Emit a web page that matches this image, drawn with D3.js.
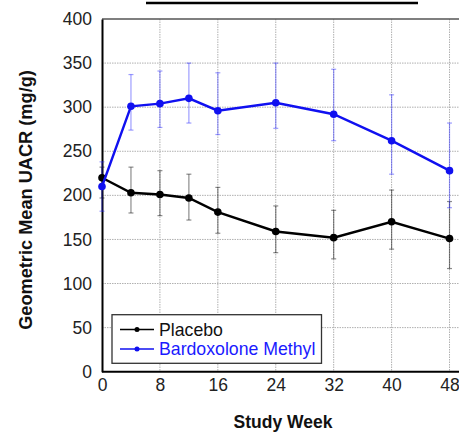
<!DOCTYPE html>
<html>
<head>
<meta charset="utf-8">
<script src="https://cdn.jsdelivr.net/npm/d3@7"></script>
<style>
  body { margin: 0; background: #fff; }
  svg { display: block; font-family: "Liberation Sans", Arial, sans-serif; }
</style>
</head>
<body>
<div id="chart"></div>
<script>
// study weeks
const weeks = [0, 4, 8, 12, 16, 24, 32, 40, 48];

// Placebo geometric mean + error bars
const placebo = [220, 203, 201, 197, 181, 159, 152, 170, 151];
const placeboHi = [232, 232, 228, 224, 209, 188, 183, 206, 193];
const placeboLo = [197, 180, 177, 172, 157, 135, 128, 139, 117];

// Bardoxolone Methyl
const bard = [210, 301, 304, 310, 296, 305, 292, 262, 228];
const bardHi = [238, 337, 341, 350, 339, 350, 343, 314, 282];
const bardLo = [182, 274, 277, 282, 269, 276, 262, 224, 186];

const xTicks = [0, 8, 16, 24, 32, 40, 48];
const yTicks = [0, 50, 100, 150, 200, 250, 300, 350, 400];

const width = 459, height = 432;
const svg = d3.select("#chart").append("svg")
    .attr("width", width)
    .attr("height", height);

const x = d3.scaleLinear().domain([0, 50]).range([102, 464]);
const y = d3.scaleLinear().domain([0, 400]).range([371.7, 19]);

// grid
svg.append("g").selectAll("line")
    .data(xTicks.slice(1))
    .enter().append("line")
    .attr("x1", d => x(d)).attr("x2", d => x(d))
    .attr("y1", y(400)).attr("y2", y(0))
    .attr("stroke", "#b0b0b0").attr("stroke-width", 1)
    .attr("stroke-dasharray", "1.5,1");
svg.append("g").selectAll("line")
    .data(yTicks.slice(1, -1))
    .enter().append("line")
    .attr("x1", x(0)).attr("x2", width)
    .attr("y1", d => y(d)).attr("y2", d => y(d))
    .attr("stroke", "#b0b0b0").attr("stroke-width", 1)
    .attr("stroke-dasharray", "1.5,1");

// top frame
svg.append("line")
    .attr("x1", x(0)).attr("x2", width)
    .attr("y1", y(400)).attr("y2", y(400))
    .attr("stroke", "#555").attr("stroke-width", 1.5);

// axes
const yAxis = svg.append("g")
    .attr("transform", `translate(${x(0)},0)`)
    .call(d3.axisLeft(y).tickValues(yTicks).tickSize(0).tickPadding(10));
const xAxis = svg.append("g")
    .attr("transform", `translate(0,${y(0)})`)
    .call(d3.axisBottom(x).tickValues(xTicks).tickSize(0).tickPadding(7));
[yAxis, xAxis].forEach(a => {
    a.select(".domain").attr("stroke", "#000").attr("stroke-width", 2);
    a.selectAll("text").attr("font-size", 17.5).attr("fill", "#222")
        .attr("font-family", "Liberation Sans, Arial, sans-serif");
});
xAxis.select(".domain").attr("d", `M${x(0)},0H${width}`);

// error bars + lines
const series = [
    { name: "Placebo", vals: placebo, hi: placeboHi, lo: placeboLo, color: "#000", err: "rgba(0,0,0,0.45)" },
    { name: "Bardoxolone Methyl", vals: bard, hi: bardHi, lo: bardLo, color: "#1010f0", err: "rgba(40,40,255,0.45)" }
];

const line = d3.line().x(d => x(d[0])).y(d => y(d[1]));

series.forEach(s => {
    const g = svg.append("g");
    const eb = g.selectAll("g.eb").data(weeks.map((w, i) => [w, s.lo[i], s.hi[i]]))
        .enter().append("g");
    eb.append("line")
        .attr("x1", d => x(d[0])).attr("x2", d => x(d[0]))
        .attr("y1", d => y(d[1])).attr("y2", d => y(d[2]))
        .attr("stroke", s.err).attr("stroke-width", 1.2);
    [1, 2].forEach(k => {
        eb.append("line")
            .attr("x1", d => x(d[0]) - 2.5).attr("x2", d => x(d[0]) + 2.5)
            .attr("y1", d => y(d[k])).attr("y2", d => y(d[k]))
            .attr("stroke", s.err).attr("stroke-width", 1.2);
    });
});

series.forEach(s => {
    const pts = weeks.map((w, i) => [w, s.vals[i]]);
    svg.append("path")
        .datum(pts)
        .attr("d", line)
        .attr("fill", "none")
        .attr("stroke", s.color)
        .attr("stroke-width", 2.4);
    svg.append("g").selectAll("circle")
        .data(pts)
        .enter().append("circle")
        .attr("cx", d => x(d[0])).attr("cy", d => y(d[1]))
        .attr("r", 3.8)
        .attr("fill", s.color);
});

// legend
const lg = svg.append("g");
lg.append("rect")
    .attr("x", 112).attr("y", 314.7)
    .attr("width", 209.5).attr("height", 48.6)
    .attr("fill", "#fff").attr("stroke", "#333").attr("stroke-width", 1.3);
series.forEach((s, i) => {
    const ly = 329.5 + i * 19.5;
    lg.append("line")
        .attr("x1", 120).attr("x2", 154)
        .attr("y1", ly).attr("y2", ly)
        .attr("stroke", s.color).attr("stroke-width", 1.5);
    lg.append("circle")
        .attr("cx", 137).attr("cy", ly).attr("r", 2.5)
        .attr("fill", s.color);
    lg.append("text")
        .attr("x", 159).attr("y", ly + 6.3)
        .attr("font-size", 17.7)
        .attr("fill", s.color === "#000" ? "#111" : "#1a1aff")
        .text(s.name);
});

// axis titles
svg.append("text")
    .attr("x", 283).attr("y", 428)
    .attr("text-anchor", "middle")
    .attr("font-size", 17.5).attr("font-weight", "bold")
    .attr("fill", "#111")
    .text("Study Week");
svg.append("text")
    .attr("transform", "translate(32,200) rotate(-90)")
    .attr("text-anchor", "middle")
    .attr("font-size", 18.2).attr("font-weight", "bold")
    .attr("fill", "#111")
    .text("Geometric Mean UACR (mg/g)");

// top black bar
svg.append("line")
    .attr("x1", 146).attr("x2", 418)
    .attr("y1", 3).attr("y2", 3)
    .attr("stroke", "#000").attr("stroke-width", 2.5);
</script>
</body>
</html>
